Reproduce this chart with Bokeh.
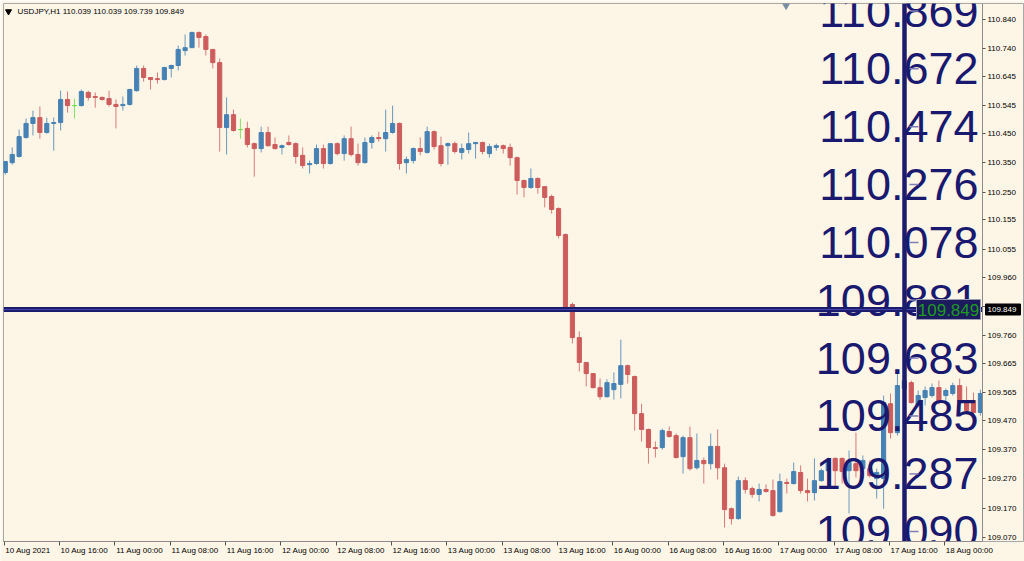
from bokeh.plotting import figure
from bokeh.models import FixedTicker, Range1d, NumeralTickFormatter, ColumnDataSource
from bokeh.core.properties import value
from bokeh.embed import file_html
from bokeh.resources import INLINE

# ---------------- data ----------------
symbol = "USDJPY,H1"
header_ohlc = ["110.039", "110.039", "109.739", "109.849"]
bid_price = 109.849
cursor_bar = 130          # bar where the vertical line stands
shift_marker_bar = 112.9  # chart-shift marker

opens = [110.317, 110.351, 110.372, 110.437, 110.485, 110.505, 110.454, 110.485, 110.488, 110.567,
         110.546, 110.546, 110.591, 110.577, 110.574, 110.570, 110.550, 110.546, 110.550, 110.597,
         110.673, 110.642, 110.638, 110.635, 110.673, 110.683, 110.734, 110.744, 110.796, 110.782,
         110.738, 110.693, 110.471, 110.515, 110.464, 110.468, 110.416, 110.399, 110.454, 110.413,
         110.403, 110.420, 110.416, 110.376, 110.344, 110.348, 110.399, 110.348, 110.416, 110.382,
         110.433, 110.379, 110.351, 110.420, 110.437, 110.433, 110.454, 110.485, 110.351, 110.358,
         110.399, 110.386, 110.457, 110.409, 110.409, 110.416, 110.386, 110.396, 110.416, 110.420,
         110.382, 110.403, 110.409, 110.403, 110.368, 110.290, 110.266, 110.297, 110.269, 110.235,
         110.194, 110.105, 109.866, 109.753, 109.668, 109.630, 109.582, 109.551, 109.575, 109.593,
         109.657, 109.620, 109.493, 109.439, 109.377, 109.377, 109.432, 109.418, 109.346, 109.411,
         109.308, 109.333, 109.322, 109.381, 109.308, 109.168, 109.134, 109.264, 109.237, 109.217,
         109.234, 109.230, 109.158, 109.258, 109.254, 109.292, 109.230, 109.223, 109.264, 109.298,
         109.340, 109.340, 109.298, 109.322, 109.305, 109.305, 109.271, 109.271, 109.527, 109.428,
         109.579, 109.599, 109.521, 109.548, 109.555, 109.582, 109.555, 109.562, 109.589, 109.538,
         109.538, 109.497]
highs = [110.355, 110.403, 110.464, 110.502, 110.529, 110.543, 110.505, 110.505, 110.597, 110.594,
         110.570, 110.601, 110.597, 110.591, 110.577, 110.597, 110.567, 110.577, 110.604, 110.683,
         110.683, 110.642, 110.659, 110.679, 110.686, 110.751, 110.789, 110.799, 110.799, 110.789,
         110.738, 110.707, 110.574, 110.532, 110.502, 110.491, 110.420, 110.474, 110.474, 110.437,
         110.413, 110.444, 110.420, 110.403, 110.358, 110.413, 110.413, 110.416, 110.420, 110.444,
         110.474, 110.416, 110.437, 110.444, 110.457, 110.532, 110.546, 110.488, 110.372, 110.403,
         110.437, 110.474, 110.461, 110.440, 110.420, 110.423, 110.416, 110.454, 110.420, 110.423,
         110.416, 110.416, 110.413, 110.416, 110.372, 110.293, 110.331, 110.300, 110.269, 110.242,
         110.198, 110.109, 109.873, 109.774, 109.668, 109.630, 109.613, 109.610, 109.634, 109.746,
         109.661, 109.623, 109.527, 109.442, 109.398, 109.442, 109.449, 109.425, 109.418, 109.449,
         109.425, 109.343, 109.425, 109.439, 109.322, 109.172, 109.278, 109.275, 109.244, 109.254,
         109.251, 109.268, 109.288, 109.271, 109.326, 109.316, 109.271, 109.340, 109.305, 109.343,
         109.343, 109.343, 109.367, 109.428, 109.350, 109.333, 109.305, 109.555, 109.562, 109.630,
         109.651, 109.606, 109.572, 109.586, 109.596, 109.606, 109.579, 109.599, 109.613, 109.586,
         109.565, 109.575]
lows = [110.310, 110.344, 110.368, 110.433, 110.444, 110.433, 110.450, 110.392, 110.461, 110.522,
        110.502, 110.543, 110.563, 110.539, 110.563, 110.543, 110.468, 110.529, 110.546, 110.594,
        110.628, 110.601, 110.621, 110.632, 110.642, 110.666, 110.717, 110.744, 110.744, 110.717,
        110.673, 110.389, 110.379, 110.457, 110.433, 110.403, 110.303, 110.386, 110.406, 110.396,
        110.379, 110.409, 110.348, 110.331, 110.314, 110.344, 110.331, 110.344, 110.376, 110.358,
        110.372, 110.341, 110.348, 110.399, 110.423, 110.389, 110.450, 110.327, 110.314, 110.348,
        110.376, 110.382, 110.396, 110.338, 110.344, 110.382, 110.362, 110.382, 110.365, 110.379,
        110.368, 110.392, 110.382, 110.341, 110.242, 110.232, 110.262, 110.245, 110.198, 110.177,
        110.092, 109.845, 109.733, 109.637, 109.586, 109.579, 109.541, 109.548, 109.541, 109.545,
        109.596, 109.435, 109.398, 109.322, 109.343, 109.370, 109.411, 109.340, 109.288, 109.298,
        109.302, 109.254, 109.302, 109.268, 109.104, 109.114, 109.131, 109.220, 109.206, 109.193,
        109.223, 109.141, 109.155, 109.220, 109.251, 109.220, 109.193, 109.196, 109.261, 109.281,
        109.237, 109.254, 109.152, 109.275, 109.271, 109.275, 109.203, 109.168, 109.408, 109.418,
        109.572, 109.527, 109.515, 109.521, 109.548, 109.524, 109.531, 109.555, 109.521, 109.493,
        109.490, 109.486]
closes = [110.355, 110.379, 110.440, 110.485, 110.505, 110.454, 110.485, 110.488, 110.567, 110.546,
          110.546, 110.594, 110.574, 110.574, 110.567, 110.550, 110.543, 110.550, 110.601, 110.673,
          110.642, 110.635, 110.635, 110.676, 110.683, 110.738, 110.744, 110.796, 110.779, 110.738,
          110.693, 110.471, 110.515, 110.461, 110.464, 110.413, 110.399, 110.454, 110.409, 110.399,
          110.409, 110.413, 110.372, 110.341, 110.348, 110.399, 110.348, 110.416, 110.382, 110.433,
          110.379, 110.351, 110.420, 110.437, 110.433, 110.454, 110.485, 110.348, 110.362, 110.399,
          110.389, 110.457, 110.406, 110.348, 110.416, 110.389, 110.399, 110.416, 110.420, 110.389,
          110.406, 110.409, 110.399, 110.368, 110.290, 110.266, 110.297, 110.266, 110.232, 110.191,
          110.102, 109.852, 109.753, 109.668, 109.630, 109.582, 109.551, 109.599, 109.596, 109.657,
          109.627, 109.493, 109.439, 109.377, 109.374, 109.435, 109.415, 109.343, 109.411, 109.305,
          109.333, 109.322, 109.381, 109.308, 109.165, 109.134, 109.264, 109.234, 109.217, 109.234,
          109.227, 109.145, 109.261, 109.254, 109.295, 109.230, 109.223, 109.264, 109.298, 109.326,
          109.298, 109.295, 109.326, 109.298, 109.333, 109.281, 109.292, 109.531, 109.428, 109.589,
          109.606, 109.531, 109.555, 109.572, 109.582, 109.531, 109.572, 109.589, 109.531, 109.504,
          109.497, 109.562]

time_labels = ["10 Aug 2021", "10 Aug 16:00", "11 Aug 00:00", "11 Aug 08:00", "11 Aug 16:00",
               "12 Aug 00:00", "12 Aug 08:00", "12 Aug 16:00", "13 Aug 00:00", "13 Aug 08:00",
               "13 Aug 16:00", "16 Aug 00:00", "16 Aug 08:00", "16 Aug 16:00", "17 Aug 00:00",
               "17 Aug 08:00", "17 Aug 16:00", "18 Aug 00:00"]
bars_per_label = 8

price_ticks = [110.840, 110.740, 110.645, 110.545, 110.450, 110.350, 110.250, 110.155, 110.055,
               109.960, 109.860, 109.760, 109.665, 109.565, 109.470, 109.370, 109.270, 109.170,
               109.070]

level_labels = ["110.869", "110.672", "110.474", "110.276", "110.078",
                "109.881", "109.683", "109.485", "109.287", "109.090"]

# ---------------- layout ----------------
W, H = 1024, 561
FL, FT, FB = 3, 3, 541         # frame left / top / bottom (px)
AXIS_PX = 982                  # where the price axis line stands (px)
XR0, XR_AXIS = -0.26, 141.3    # bar range from frame left to the price axis
YR = (109.056, 110.895)
PPB = (AXIS_PX - FL) / (XR_AXIS - XR0)
XR1 = XR0 + (W - FL) / PPB     # frame runs to the right edge; axis drawn inside
PPP = (FB - FT) / (YR[1] - YR[0])


def bx(px):
    return XR0 + (px - FL) / PPB


def py(px):
    return YR[1] - (px - FT) / PPP


BG = "#FDF5E6"
NAVY = "#1c1c6e"
TXT_NAVY = "#191970"
UP, DN, DOJI = "#4682B4", "#CD5C5C", "#66dd44"
FONT = value("Liberation Sans")

p = figure(width=W, height=H, x_range=Range1d(XR0, XR1), y_range=Range1d(*YR),
           output_backend="svg", toolbar_location=None, y_axis_location="right",
           background_fill_color=BG, border_fill_color=BG,
           min_border_left=FL, min_border_top=FT,
           min_border_right=0, min_border_bottom=H - FB)
p.grid.visible = False
p.outline_line_color = "#a8a8a8"

# candles
n = len(opens)
bars = list(range(n))
colors = [UP if c > o else (DN if c < o else DOJI) for o, c in zip(opens, closes)]
src = ColumnDataSource(dict(
    x=bars, h=highs, l=lows,
    top=[max(o, c) for o, c in zip(opens, closes)],
    bot=[min(o, c) for o, c in zip(opens, closes)],
    col=colors))
p.segment(x0="x", y0="h", x1="x", y1="l", source=src, line_color="col",
          line_width=1, line_alpha=0.8)
p.vbar(x="x", width=0.6, top="top", bottom="bot", source=src,
       fill_color="col", line_color="col", line_width=1)

# big level labels
levels = [float(s) for s in level_labels]
p.text(x=[bx(978)] * len(levels), y=levels, text=level_labels,
       text_align="right", text_baseline="middle", text_font=FONT,
       text_font_size="45px", text_color=TXT_NAVY)

# bid line (ends at the price axis) and vertical cursor line
p.segment(x0=[XR0], y0=[bid_price], x1=[bx(AXIS_PX)], y1=[bid_price],
          line_color=NAVY, line_width=5)
p.segment(x0=[XR0], y0=[bid_price], x1=[bx(AXIS_PX)], y1=[bid_price],
          line_color="#4444a6", line_width=1)
p.vspan(x=[cursor_bar], line_color=NAVY, line_width=4.5)

# small dashes at levels
p.segment(x0=[bx(909)] * len(levels), y0=levels, x1=[bx(918)] * len(levels), y1=levels,
          line_color="#7f7fb8", line_width=1.5)

# green price box
p.rect(x=[bx(948)], y=[bid_price], width=64, height=20,
       width_units="screen", height_units="screen",
       fill_color="#1b1b5e", line_color="#9c9cb0", line_width=1)
p.text(x=[bx(948)], y=[bid_price], text=[f"{bid_price:.3f}"], text_align="center",
       text_baseline="middle", text_font=FONT, text_font_size="17px",
       text_color="#1f9a1f")

# header
p.scatter(x=[bx(8)], y=[py(11)], marker="inverted_triangle", size=6,
          color="black")
p.text(x=[bx(17)], y=[py(11)], text=[symbol + "  " + " ".join(header_ohlc)],
       text_align="left", text_baseline="middle", text_font=FONT,
       text_font_size="8px", text_color="black")

# chart shift marker
p.scatter(x=[shift_marker_bar], y=[py(5)], marker="inverted_triangle", size=7,
          color="#7a8fa3")

# right price axis, drawn at a fixed location inside the frame
ya = p.yaxis[0]
ya.fixed_location = bx(AXIS_PX)
ya.ticker = FixedTicker(ticks=price_ticks)
ya.formatter = NumeralTickFormatter(format="0.000")
ya.major_tick_out = 3
ya.major_tick_in = 0
ya.minor_tick_out = 0
ya.minor_tick_in = 0
ya.major_label_standoff = 2
ya.major_label_text_font = "Liberation Sans"
ya.major_label_text_font_size = "8px"
ya.major_label_text_color = "black"
ya.axis_line_color = "#8c8c8c"
ya.major_tick_line_color = "#555555"

# black bid label on the price axis (covers the axis label beneath it)
p.rect(x=[bx(1002.5)], y=[bid_price], width=35, height=11,
       width_units="screen", height_units="screen",
       fill_color="black", line_color="black", level="overlay")
p.text(x=[bx(987)], y=[bid_price], text=[f"{bid_price:.3f}"], text_align="left",
       text_baseline="middle", text_font=FONT, text_font_size="8px",
       text_color="white", level="overlay")

# bottom axis: tick marks at label starts, label text to the right
tick_bars = [k * bars_per_label - 0.15 for k in range(len(time_labels))]
centers = []
for tb, s in zip(tick_bars, time_labels):
    w = 47.6 if ":" in s else 45.4
    centers.append(round(tb + (1 + w / 2) / PPB, 4))
xa = p.xaxis[0]
xa.bounds = (XR0, bx(AXIS_PX))
xa.ticker = FixedTicker(ticks=centers, minor_ticks=tick_bars)
xa.major_label_overrides = {c: s for c, s in zip(centers, time_labels)}
xa.major_tick_out = 0
xa.major_tick_in = 0
xa.minor_tick_out = 4
xa.minor_tick_in = 0
xa.minor_tick_line_color = "#555555"
xa.major_label_standoff = 0
xa.major_label_text_font = "Liberation Sans"
xa.major_label_text_font_size = "8px"
xa.major_label_text_color = "black"
xa.axis_line_color = "#8c8c8c"

open("out.html", "w").write(file_html(p, INLINE))
